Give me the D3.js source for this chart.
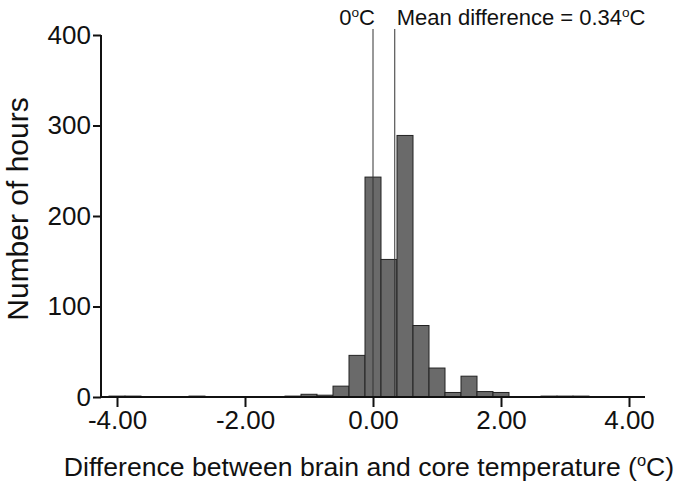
<!DOCTYPE html>
<html>
<head>
<meta charset="utf-8">
<script src="https://cdn.jsdelivr.net/npm/d3@7"></script>
<style>
  html, body { margin: 0; padding: 0; background: #fff; }
  svg { display: block; }
  text { font-family: "Liberation Sans", Arial, sans-serif; fill: #111; }
</style>
</head>
<body>
<svg id="chart" width="680" height="484"></svg>
<script>
// ---- data ----
const binCenters = [-4.0, -3.75, -2.75, -1.25, -1.0, -0.75, -0.5, -0.25, 0.0, 0.25, 0.5, 0.75, 1.0, 1.25, 1.5, 1.75, 2.0, 2.75, 3.0, 3.25];
const counts     = [1, 1, 1, 1, 3, 2, 12, 46, 243, 152, 289, 79, 32, 5, 23, 6, 5, 1, 1, 1];
const binWidth = 0.25;
const xTicks = [-4, -2, 0, 2, 4];
const yTicks = [0, 100, 200, 300, 400];
const refLines = [0, 0.34];
const xTitle = ["Difference between brain and core temperature (", "o", "C)"];
const yTitle = "Number of hours";
const refLabels = [["0", "o", "C"], ["Mean difference = 0.34", "o", "C"]];

const svg = d3.select("#chart");
const x = d3.scaleLinear().domain([-4.25, 4.25]).range([101, 645]);
const y = d3.scaleLinear().domain([0, 400]).range([397, 35]);

// bars
svg.append("g").selectAll("rect").data(binCenters).join("rect")
  .attr("x", (d) => x(d - binWidth / 2))
  .attr("width", (d) => x(d + binWidth / 2) - x(d - binWidth / 2))
  .attr("y", (d, i) => y(counts[i]))
  .attr("height", (d, i) => y(0) - y(counts[i]))
  .attr("fill", "#6a6a6a")
  .attr("stroke", "#222")
  .attr("stroke-width", 1);

// reference lines
svg.append("g").selectAll("line").data(refLines).join("line")
  .attr("x1", (d) => x(d)).attr("x2", (d) => x(d))
  .attr("y1", 29).attr("y2", y(0))
  .attr("stroke", "#333").attr("stroke-width", 1);

// x axis
const xAxis = d3.axisBottom(x).tickValues(xTicks).tickFormat(d3.format(".2f")).tickSize(10).tickPadding(4);
const gx = svg.append("g").attr("transform", `translate(0,${y(0)})`).call(xAxis);
gx.select(".domain").attr("d", `M${x(-4.25)},0H${x(4.25)}`).attr("stroke", "#111").attr("stroke-width", 2);
gx.selectAll(".tick line").attr("stroke", "#111").attr("stroke-width", 2);
gx.selectAll(".tick text").attr("font-size", 26).attr("font-family", "Liberation Sans, Arial, sans-serif").attr("fill", "#111")
  .text((d) => d3.format(".2f")(d).replace("−", "-"));

// y axis
const yAxis = d3.axisLeft(y).tickValues(yTicks).tickSize(8).tickPadding(2);
const gy = svg.append("g").attr("transform", `translate(${x(-4.25)},0)`).call(yAxis);
gy.select(".domain").attr("d", `M0,${y(400)}V${y(0)}`).attr("stroke", "#111").attr("stroke-width", 2);
gy.selectAll(".tick line").attr("stroke", "#111").attr("stroke-width", 2);
gy.selectAll(".tick text").attr("font-size", 26).attr("font-family", "Liberation Sans, Arial, sans-serif").attr("fill", "#111");

// helper for text with superscript "o"
function degText(sel, parts, size) {
  sel.append("tspan").text(parts[0]);
  sel.append("tspan").text(parts[1]).attr("font-size", size * 0.62).attr("dy", -size * 0.38);
  sel.append("tspan").text(parts[2]).attr("dy", size * 0.38);
}

// reference labels
const t0 = svg.append("text").attr("x", x(0) + 2).attr("y", 25).attr("text-anchor", "end").attr("font-size", 22);
degText(t0, refLabels[0], 22);
const t1 = svg.append("text").attr("x", x(0.34) + 2).attr("y", 25).attr("text-anchor", "start").attr("font-size", 22);
degText(t1, refLabels[1], 22);

// axis titles
const xt = svg.append("text").attr("x", 369).attr("y", 476).attr("text-anchor", "middle").attr("font-size", 26.6);
degText(xt, xTitle, 26.6);

svg.append("text").attr("transform", "translate(28,209) rotate(-90)")
  .attr("text-anchor", "middle").attr("font-size", 30).text(yTitle);
</script>
</body>
</html>
